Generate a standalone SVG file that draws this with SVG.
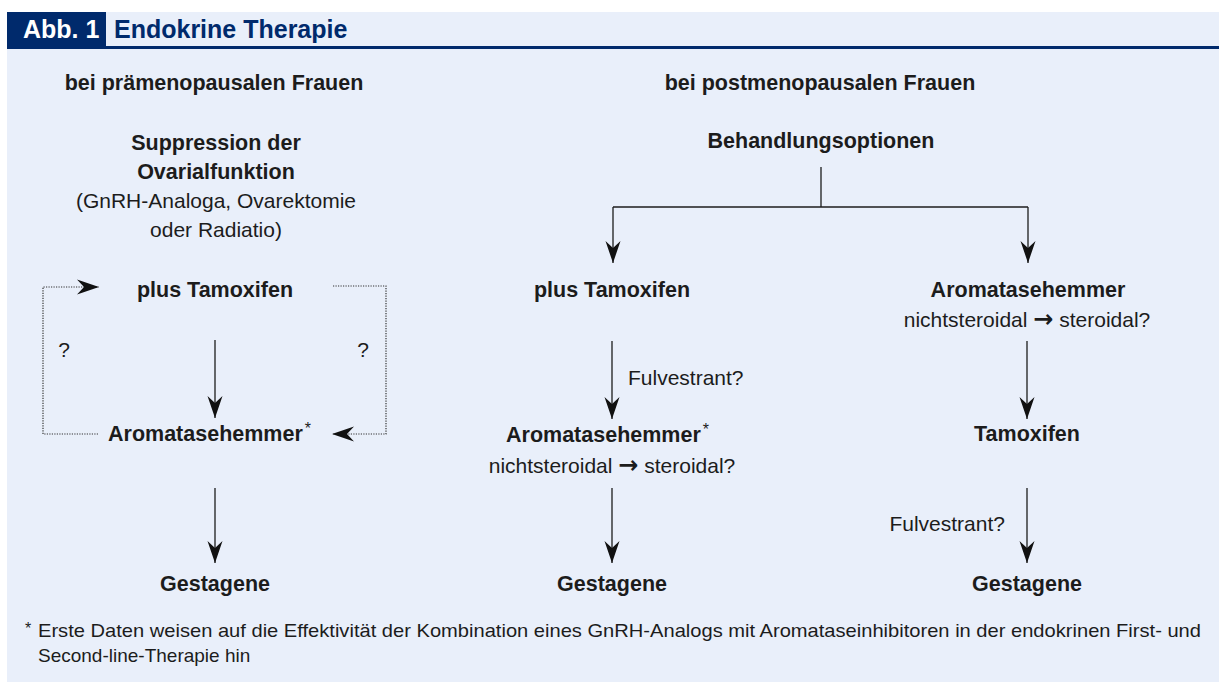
<svg xmlns="http://www.w3.org/2000/svg" width="1219" height="682" viewBox="0 0 1219 682">
<style>
  text { font-family: "Liberation Sans", Arial, sans-serif; fill: #1c1c1c; }
  .b { font-weight: bold; font-size: 21.5px; }
  .r { font-size: 21px; }
  .c { text-anchor: middle; }
  .fn { font-size: 19px; }
  .sup { font-size: 16px; font-weight: normal; }
  .arr { font-family: "DejaVu Sans", sans-serif; font-weight: bold; font-size: 24px; }
  .solid { stroke: #1c1c1c; stroke-width: 1.3; fill: none; }
  .dot { stroke: #333; stroke-width: 1.2; fill: none; stroke-dasharray: 1.2 1.3; }
</style>
<defs>
  <marker id="ah" markerUnits="userSpaceOnUse" viewBox="-23 -8 24 16" refX="0" refY="0" markerWidth="24" markerHeight="16" orient="auto">
    <path d="M0,0 L-22,-7.5 L-15,0 L-22,7.5 Z" fill="#111111"/>
  </marker>
</defs>
<rect x="0" y="0" width="1219" height="682" fill="#ffffff"/>
<rect x="7" y="12" width="1212" height="670" fill="#e9effa"/>
<g id="header">
  <rect x="7" y="12" width="99" height="36" fill="#002a6c"/>
  <rect x="7" y="46" width="1212" height="3" fill="#002a6c"/>
  <text x="23" y="38" style="font-weight:bold;font-size:25px;fill:#ffffff">Abb. 1</text>
  <text x="114" y="38" style="font-weight:bold;font-size:25px;fill:#002a6c">Endokrine Therapie</text>
</g>
<g id="connectors">
  <line class="solid" x1="215" y1="340" x2="215" y2="418" marker-end="url(#ah)"/>
  <line class="solid" x1="215" y1="488" x2="215" y2="563" marker-end="url(#ah)"/>
  <path class="dot" d="M98,434 L43,434 L43,287 L99,287" marker-end="url(#ah)"/>
  <path class="dot" d="M333,286 L386,286 L386,434 L332,434" marker-end="url(#ah)"/>
  <path class="solid" d="M821,167 L821,207"/>
  <path class="solid" d="M613,207 L1028,207"/>
  <line class="solid" x1="613" y1="207" x2="613" y2="263" marker-end="url(#ah)"/>
  <line class="solid" x1="1028" y1="207" x2="1028" y2="263" marker-end="url(#ah)"/>
  <line class="solid" x1="612" y1="341" x2="612" y2="419" marker-end="url(#ah)"/>
  <line class="solid" x1="612" y1="488" x2="612" y2="563" marker-end="url(#ah)"/>
  <line class="solid" x1="1027" y1="341" x2="1027" y2="419" marker-end="url(#ah)"/>
  <line class="solid" x1="1027" y1="488" x2="1027" y2="563" marker-end="url(#ah)"/>
</g>
<g id="pre-title"><text class="b c" x="214" y="90">bei prämenopausalen Frauen</text></g>
<g id="pre-suppression">
  <text class="b c" x="216" y="150">Suppression der</text>
  <text class="b c" x="216" y="179">Ovarialfunktion</text>
  <text class="r c" x="216" y="208">(GnRH-Analoga, Ovarektomie</text>
  <text class="r c" x="216" y="237">oder Radiatio)</text>
</g>
<g id="pre-tamoxifen"><text class="b c" x="215" y="297">plus Tamoxifen</text></g>
<g id="pre-q-left"><text class="r c" x="64" y="357">?</text></g>
<g id="pre-q-right"><text class="r c" x="363" y="357">?</text></g>
<g id="pre-ai"><text class="b" x="108" y="441">Aromatasehemmer<tspan class="sup" dx="2" dy="-7">*</tspan></text></g>
<g id="pre-gestagene"><text class="b c" x="215" y="591">Gestagene</text></g>
<g id="post-title"><text class="b c" x="820" y="90">bei postmenopausalen Frauen</text></g>
<g id="post-options"><text class="b c" x="821" y="148">Behandlungsoptionen</text></g>
<g id="post-tamoxifen"><text class="b c" x="612" y="297">plus Tamoxifen</text></g>
<g id="post-fulv1"><text class="r" x="628" y="385">Fulvestrant?</text></g>
<g id="post-ai2">
  <text class="b" x="506" y="442">Aromatasehemmer<tspan class="sup" dx="2" dy="-7">*</tspan></text>
  <text class="r c" x="612" y="473">nichtsteroidal <tspan class="arr">→</tspan> steroidal?</text>
</g>
<g id="post-gestagene1"><text class="b c" x="612" y="591">Gestagene</text></g>
<g id="post-ai">
  <text class="b c" x="1028" y="297">Aromatasehemmer</text>
  <text class="r c" x="1027" y="327">nichtsteroidal <tspan class="arr">→</tspan> steroidal?</text>
</g>
<g id="post-tamoxifen2"><text class="b c" x="1027" y="441">Tamoxifen</text></g>
<g id="post-fulv2"><text class="r" x="1005" y="531" text-anchor="end">Fulvestrant?</text></g>
<g id="post-gestagene2"><text class="b c" x="1027" y="591">Gestagene</text></g>
<g id="footnote">
  <text class="sup" x="25" y="634">*</text>
  <text class="fn" x="38" y="637" textLength="1163" lengthAdjust="spacingAndGlyphs">Erste Daten weisen auf die Effektivität der Kombination eines GnRH-Analogs mit Aromataseinhibitoren in der endokrinen First- und</text>
  <text class="fn" x="38" y="662">Second-line-Therapie hin</text>
</g>
</svg>
